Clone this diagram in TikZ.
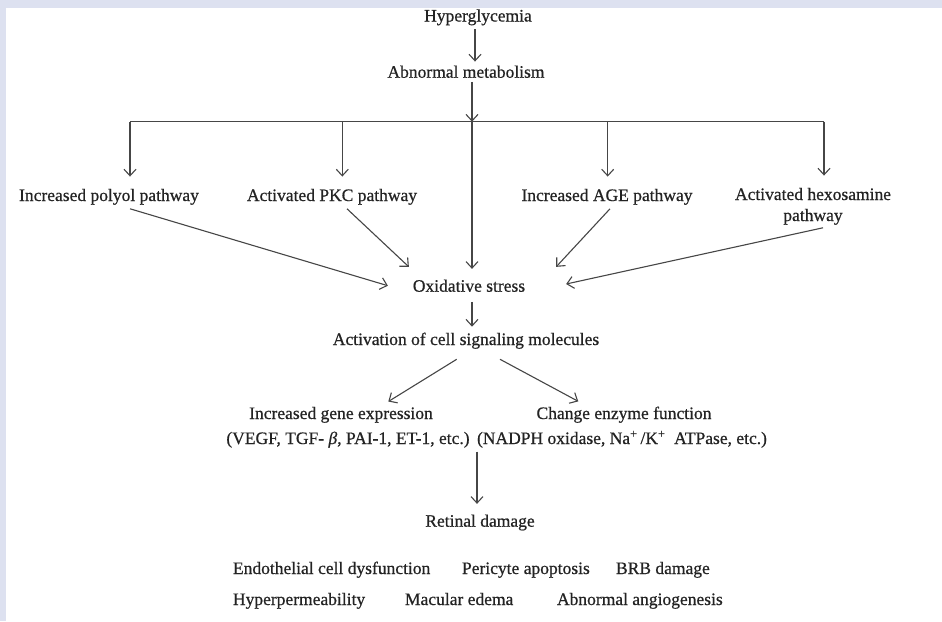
\documentclass[tikz,border=0pt]{standalone}
\usepackage{fontspec}
\setmainfont{Liberation Serif}[FakeBold=0.6]
\usetikzlibrary{arrows.meta}
\definecolor{lav}{RGB}{221,225,240}
\definecolor{tc}{RGB}{35,35,35}
\definecolor{lc}{RGB}{70,70,70}
\tikzset{
  txt/.style={text=tc, font=\fontsize{17.5}{17}\selectfont, inner sep=0pt, outer sep=4pt, anchor=base},
  row/.style={txt, anchor=base west},
  arr/.style={draw=lc, line width=1.1pt, -{Straight Barb[length=6.5pt,width=12pt]}},
  ln/.style={draw=lc, line width=1.1pt}
}
\begin{document}
\begin{tikzpicture}[x=1pt,y=-1pt]
\fill[lav] (0,0) rectangle (942,621);
\fill[white] (6,8) rectangle (942,621);
\useasboundingbox (0,0) rectangle (942,621);

\node[txt] (hyp) at (478,21.5) {Hyperglycemia};
\node[txt] (abn) at (466,77.7) {Abnormal metabolism};
\node[txt] (poly) at (109,201) {Increased polyol pathway};
\node[txt] (pkc) at (332,201) {Activated PKC pathway};
\node[txt] (age) at (607,201) {Increased AGE pathway};
\node[txt, align=center, font=\fontsize{17.5}{21}\selectfont] (hex) at (813,221) {Activated hexosamine\\pathway};
\node[txt] (ox) at (469,291.7) {Oxidative stress};
\node[txt] (act) at (466,345) {Activation of cell signaling molecules};
\node[txt] (gene) at (341,419) {Increased gene expression};
\node[txt] (vegf) at (348,444) {(VEGF, TGF- \textit{β}, PAI-1, ET-1, etc.)};
\node[txt] (enz) at (624,419) {Change enzyme function};
\node[txt] (nadph) at (622,444) {(NADPH oxidase, Na\textsuperscript{+}\,/K\textsuperscript{+}\ \ ATPase, etc.)};
\node[txt] (ret) at (480,526.7) {Retinal damage};
\node[row] (endo) at (229,574) {Endothelial cell dysfunction};
\node[row] (peri) at (458,574) {Pericyte apoptosis};
\node[row] (brb) at (612,574) {BRB damage};
\node[row] (hypp) at (229,605) {Hyperpermeability};
\node[row] (mac) at (401,605) {Macular edema};
\node[row] (abang) at (553,605) {Abnormal angiogenesis};

\coordinate (a0) at (475,0);
\coordinate (hc) at (472,121.7);
\coordinate (d1) at (130,121.7);
\coordinate (d2) at (342.3,121.7);
\coordinate (d3) at (607.7,121.7);
\coordinate (d4) at (824,121.7);
\coordinate (oc) at (472,0);
\coordinate (mid) at (477,451.7);

\draw[arr] (hyp.south -| a0) -- (abn.north -| a0);
\draw[arr] (abn.south -| hc) -- (hc);
\draw[ln] (d1) -- (d4);
\draw[arr, shorten >=8.3pt] (d1) -- (poly.north -| d1);
\draw[arr, shorten >=8.3pt] (d2) -- (pkc.north -| d2);
\draw[arr, shorten >=8.3pt] (d3) -- (age.north -| d3);
\draw[arr, shorten >=8.3pt] (d4) -- (hex.north -| d4);
\draw[arr, shorten >=6.7pt] (hc) -- (ox.north -| hc);

\draw[arr] ([xshift=21pt]poly.south) -- ([xshift=-21pt]ox.west);
\draw[arr] ([xshift=15pt]pkc.south) -- ([yshift=8.7pt]ox.north west);
\draw[arr] ([xshift=3pt]age.south) -- ([shift={(27pt,8.7pt)}]ox.north east);
\draw[arr] ([shift={(10pt,1pt)}]hex.south) -- ([shift={(37pt,1.7pt)}]ox.east);

\draw[arr, shorten <=6pt, shorten >=2pt] (ox.south -| oc) -- (act.north -| oc);
\draw[arr] ([shift={(-9.3pt,-6.5pt)}]act.south) -- ([shift={(47.3pt,1.3pt)}]gene.north);
\draw[arr] ([shift={(34pt,-6.5pt)}]act.south) -- ([shift={(-45.7pt,1.3pt)}]enz.north);
\draw[arr, shorten >=6.7pt] (mid) -- (ret.north -| mid);
\end{tikzpicture}
\end{document}
